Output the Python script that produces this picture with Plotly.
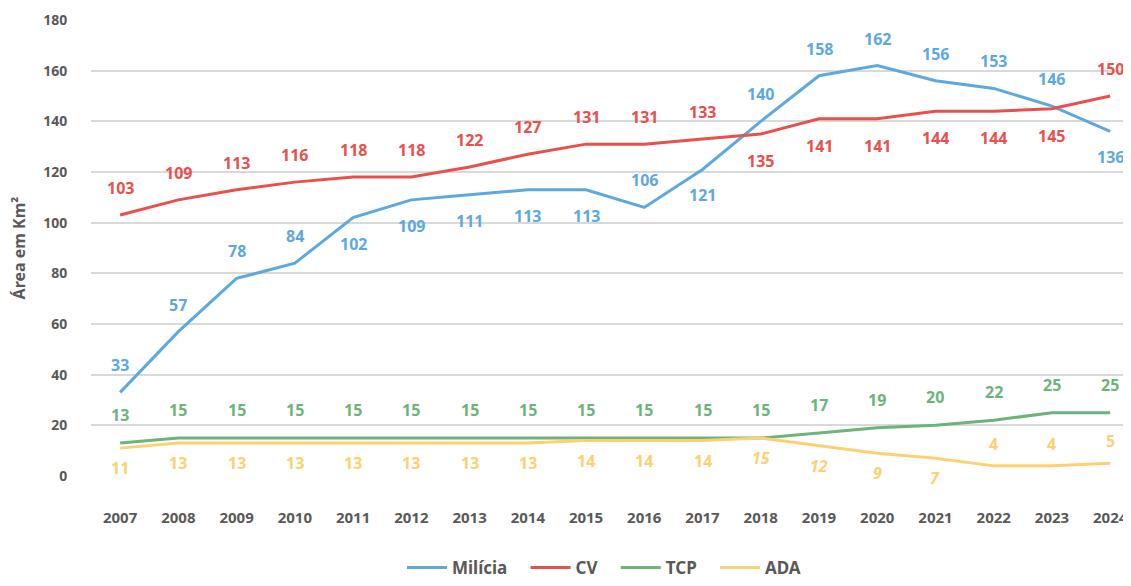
"""Área ocupada por grupo armado, 2007-2024."""

import plotly.graph_objects as go

YEARS = [str(y) for y in range(2007, 2025)]

MILICIA = [33, 57, 78, 84, 102, 109, 111, 113, 113, 106, 121, 140, 158, 162, 156, 153, 146, 136]
CV = [103, 109, 113, 116, 118, 118, 122, 127, 131, 131, 133, 135, 141, 141, 144, 144, 145, 150]
TCP = [13, 15, 15, 15, 15, 15, 15, 15, 15, 15, 15, 15, 17, 19, 20, 22, 25, 25]
ADA = [11, 13, 13, 13, 13, 13, 13, 13, 14, 14, 14, 15, 12, 9, 7, 4, 4, 5]

SERIES = [
    ("Milícia", MILICIA, "#5DA8DF"),
    ("CV", CV, "#E8504E"),
    ("TCP", TCP, "#6BB47A"),
    ("ADA", ADA, "#FDD172"),
]

# which side of the line each value label sits on (U = above, D = below)
LABEL_SIDE = {
    "Milícia": "UUUUDDDDDUDUUUUUUD",
    "CV": "UUUUUUUUUUUDDDDDDU",
    "TCP": "UUUUUUUUUUUUUUUUUU",
    "ADA": "DDDDDDDDDDDDDDDUUU",
}
# pixel shift of the labels (above, below)
LABEL_SHIFT = {
    "Milícia": (27, -26),
    "CV": (27, -27),
    "TCP": (28, -24),
    "ADA": (22, -20),
}
ITALIC_ADA = {"2018", "2019", "2020", "2021"}

FONT = "Noto Sans"
TEXT_GREY = "#595959"

fig = go.Figure()

for name, values, color in SERIES:
    fig.add_trace(
        go.Scatter(
            x=YEARS,
            y=values,
            mode="lines",
            name=name + "   ",
            line=dict(color=color, width=3),
            hoverinfo="skip",
        )
    )

    up, down = LABEL_SHIFT[name]
    sides = LABEL_SIDE[name]
    # numeric-looking category names get read as indices, so place by index
    for idx, (year, val, side) in enumerate(zip(YEARS, values, sides)):
        text = f"<b>{val}</b>"
        if name == "ADA" and year in ITALIC_ADA:
            text = f"<i>{text}</i>"
        fig.add_annotation(
            x=idx,
            y=val,
            text=text,
            showarrow=False,
            yshift=up if side == "U" else down,
            font=dict(family=FONT, size=16, color=color),
        )

# page body keeps an 8px margin, so the figure is sized to fit after it
fig.update_layout(
    width=1123,
    height=578,
    margin=dict(l=83, r=1, t=12, b=110),
    plot_bgcolor="white",
    paper_bgcolor="white",
    font=dict(family=FONT, color=TEXT_GREY),
    showlegend=True,
    legend=dict(
        orientation="h",
        xanchor="center",
        x=0.5,
        yref="container",
        yanchor="bottom",
        y=0,
        font=dict(family=FONT, size=17, color=TEXT_GREY, weight="bold"),
        itemwidth=40,
        tracegroupgap=0,
    ),
    xaxis=dict(
        type="category",
        range=[-0.5, 17.34],
        automargin=False,
        showgrid=False,
        zeroline=False,
        showline=False,
        ticks="outside",
        ticklen=28,
        tickcolor="rgba(0,0,0,0)",
        tickfont=dict(family=FONT, size=15, color=TEXT_GREY, weight="bold"),
    ),
    yaxis=dict(
        range=[0, 180],
        tickvals=list(range(0, 181, 20)),
        automargin=False,
        showgrid=True,
        gridcolor="#D9D9D9",
        gridwidth=1.5,
        zeroline=False,
        showline=False,
        ticks="outside",
        ticklen=20,
        tickcolor="rgba(0,0,0,0)",
        tickfont=dict(family=FONT, size=14, color=TEXT_GREY, weight="bold"),
        title=dict(
            text="Área em Km²",
            font=dict(family=FONT, size=16, color=TEXT_GREY, weight="bold"),
        ),
    ),
)

fig.write_html("out.html")
